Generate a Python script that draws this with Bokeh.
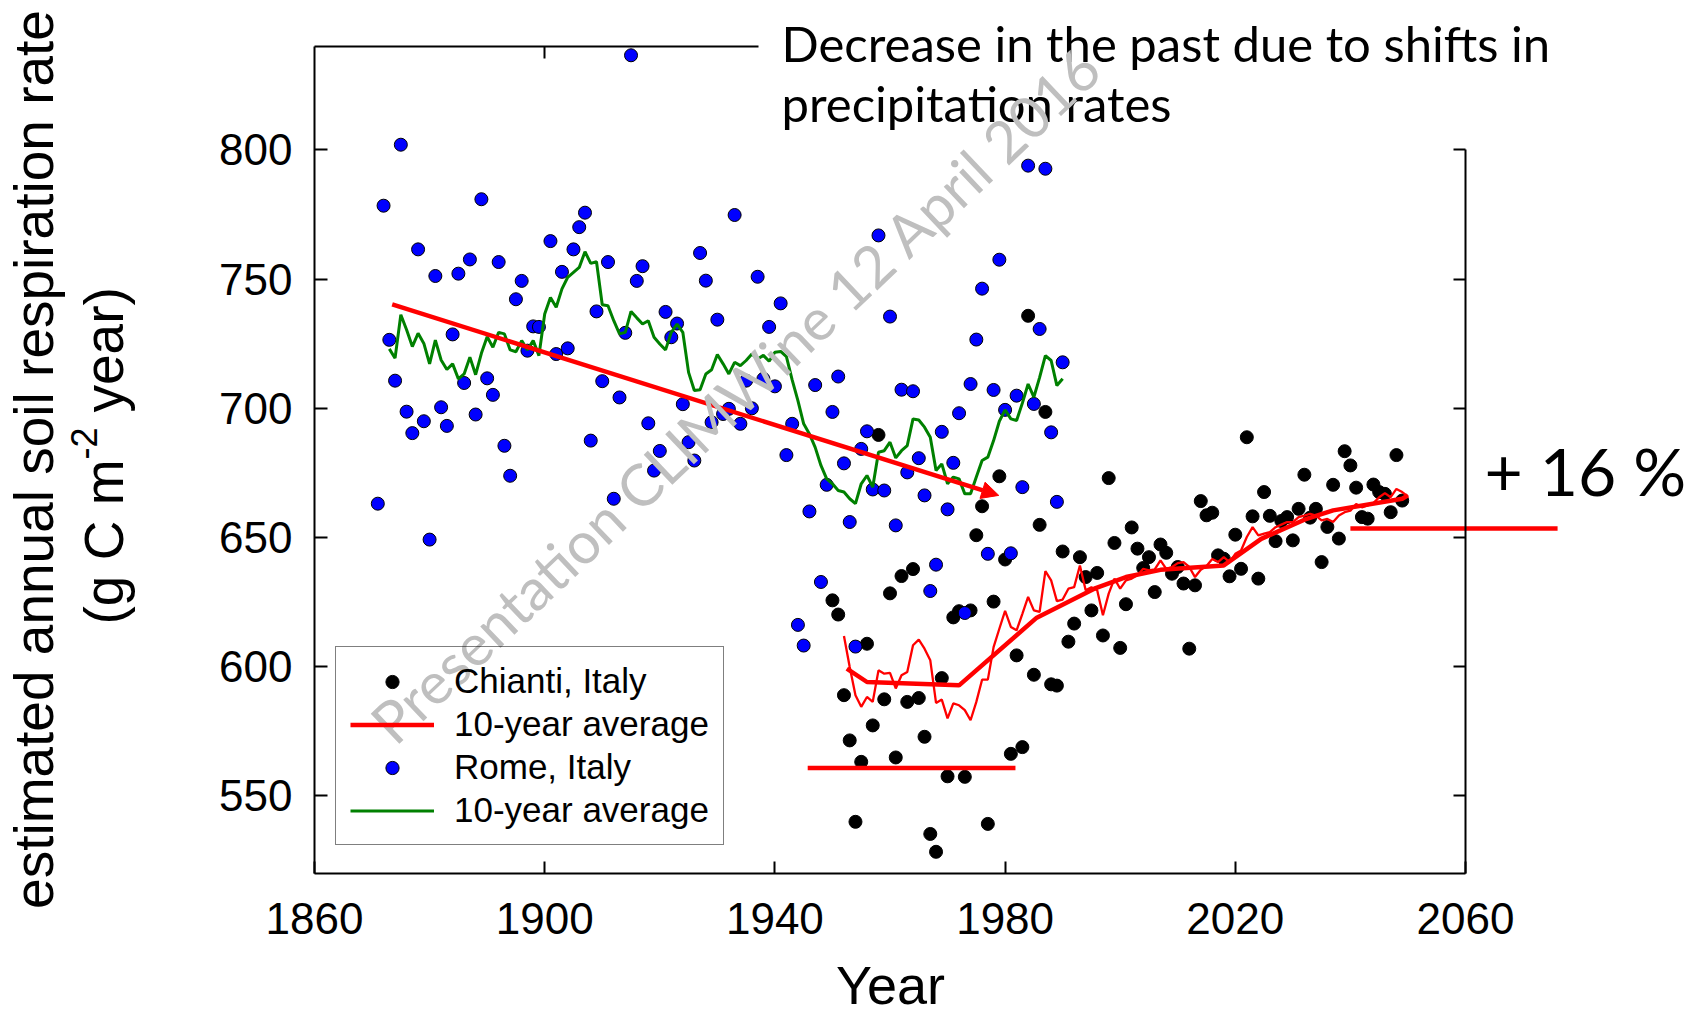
import math
from bokeh.plotting import figure
from bokeh.models import (LinearAxis, Label, Arrow, NormalHead, Legend, LegendItem,
                          FixedTicker, Range1d)
from bokeh.embed import file_html
from bokeh.resources import INLINE

# ---------------- data ----------------
x_ticks = [1860, 1900, 1940, 1980, 2020, 2060]
y_ticks = [550, 600, 650, 700, 750, 800]

rome_years = list(range(1871, 1900)) + list(range(1901, 1991))
rome_values = [
    663.1, 778.4, 726.5, 710.7, 802.0, 698.7, 690.4, 761.5, 695.0, 649.2,
    751.2, 700.4, 693.2, 728.6, 752.1, 709.8, 757.6, 697.6, 780.9, 711.6,
    705.2, 756.6, 685.5, 673.9, 742.2, 749.3, 722.3, 731.7, 731.5,
    764.7, 721.0, 752.8, 723.2, 761.5, 770.1, 775.7, 687.5, 737.5, 710.5,
    756.6, 665.0, 704.2, 729.2, 836.6, 749.3, 755.0, 694.2, 675.9, 683.5,
    737.3, 727.5, 732.8, 701.6, 686.9, 679.8, 760.1, 749.4, 694.6, 734.3,
    697.8, 699.8, 774.8, 694.0, 710.7, 700.0, 750.9, 711.4, 731.5, 708.5,
    740.6, 681.9, 694.0, 616.2, 608.2, 660.1, 709.0, 632.8, 670.4, 698.6,
    712.3, 678.7, 656.0, 607.8, 684.3, 691.1, 668.6, 766.9, 668.2, 735.5,
    654.7, 707.2, 675.2, 706.6, 680.7, 666.3, 629.3, 639.5, 690.9, 660.9,
    678.9, 698.1, 620.8, 709.4, 726.6, 746.3, 643.7, 707.1, 757.5, 699.4,
    643.9, 704.9, 669.5, 793.9, 701.7, 730.7, 792.7, 690.7, 663.8, 717.8,
]

rome_avg_years = list(range(1873, 1991))
rome_avg_values = [
    723.0, 719.4, 736.2, 730.4, 723.9, 729.0, 725.1, 717.2, 726.4, 718.7,
    715.0, 717.2, 711.4, 713.3, 719.8, 713.0, 721.3, 727.7, 723.6, 729.4,
    728.8, 722.6, 721.9, 726.2, 722.6, 726.2, 720.4, 736.5, 742.9, 739.1,
    746.2, 750.7, 752.6, 754.5, 760.6, 756.1, 756.7, 740.1, 739.7, 733.9,
    728.8, 729.4, 737.5, 735.0, 732.6, 733.9, 727.5, 724.9, 722.6, 729.4,
    732.6, 729.4, 713.9, 706.9, 707.2, 713.3, 714.9, 720.8, 717.2, 713.3,
    717.8, 716.5, 718.5, 721.0, 719.1, 720.5, 718.2, 721.7, 722.0, 720.0,
    711.0, 703.0, 694.0, 690.1, 684.9, 677.9, 672.7, 670.8, 668.2, 667.6,
    665.0, 663.1, 670.8, 674.0, 669.5, 683.0, 683.6, 686.9, 680.8, 683.6,
    685.6, 695.9, 695.5, 692.7, 688.8, 675.9, 678.5, 670.8, 673.4, 672.7,
    666.9, 666.9, 673.4, 679.8, 681.1, 687.5, 695.0, 699.4, 695.9, 695.3,
    702.0, 709.4, 704.3, 712.0, 720.4, 718.5, 708.8, 711.4,
]

chianti_years = list(range(1950, 2050))
chianti_values = [
    625.7, 620.2, 589.0, 571.5, 540.0, 563.2, 608.9, 577.3, 689.7, 587.4,
    628.4, 564.9, 635.1, 586.4, 637.8, 587.9, 572.9, 535.3, 528.4, 595.6,
    557.6, 619.1, 621.5, 557.4, 621.8, 650.9, 662.1, 539.2, 625.2, 673.7,
    641.5, 566.3, 604.4, 568.9, 735.8, 596.9, 654.9, 698.6, 593.2, 592.7,
    644.6, 609.7, 616.7, 642.4, 634.7, 621.8, 636.3, 612.1, 673.0, 647.9,
    607.3, 624.2, 653.9, 645.7, 638.2, 642.4, 628.9, 647.3, 644.1, 636.0,
    638.6, 632.2, 607.0, 631.5, 664.1, 658.6, 659.6, 643.1, 641.8, 635.0,
    651.1, 637.9, 688.8, 658.2, 634.1, 667.6, 658.4, 648.6, 656.4, 657.9,
    648.9, 661.1, 674.3, 657.7, 661.1, 640.5, 654.1, 670.4, 649.6, 683.4,
    677.9, 669.3, 657.9, 657.3, 670.5, 667.6, 666.9, 659.8, 681.9, 664.3,
]

chianti_avg_years = list(range(1952, 2051))
chianti_avg_values = [
    611.9, 599.9, 589.0, 584.5, 588.3, 586.4, 598.6, 597.3, 597.6, 591.6,
    596.7, 598.0, 608.3, 610.5, 607.0, 602.5, 586.0, 587.3, 580.0, 585.8,
    585.1, 583.2, 579.3, 586.4, 595.0, 595.0, 607.6, 614.7, 621.6, 615.4,
    614.1, 620.5, 627.0, 621.8, 621.2, 637.0, 633.4, 625.4, 626.0, 630.2,
    630.8, 639.2, 629.6, 630.8, 629.6, 619.9, 628.3, 634.1, 630.2, 633.4,
    634.1, 635.4, 637.9, 637.3, 637.7, 641.2, 637.9, 638.6, 640.1, 640.5,
    638.6, 634.7, 637.5, 639.0, 641.7, 640.5, 642.4, 640.5, 643.7, 645.0,
    650.2, 654.0, 650.8, 651.5, 652.1, 654.0, 655.0, 656.0, 656.0, 657.9,
    658.5, 659.2, 658.5, 656.6, 657.2, 656.0, 658.5, 659.8, 660.4, 663.0,
    661.7, 662.4, 663.3, 665.6, 667.2, 665.6, 668.8, 667.6, 665.9,
]

chianti_trend_years = [1952.5, 1956, 1972, 1985.5, 1995.5, 2001, 2007, 2018, 2024.5, 2032, 2037, 2049, 2050]
chianti_trend_values = [599.3, 594.1, 592.8, 619.0, 630.2, 634.7, 637.5, 639.2, 649.5, 656.9, 660.5, 665.0, 666.3]

decline_years = [1873.5, 1978.9]
decline_values = [740.2, 666.3]

past_level_years = [1945.7, 1981.8]
past_level_values = [560.8, 560.8]
future_level_years = [2040.0, 2076.0]
future_level_values = [653.5, 653.5]

# ---------------- layout helpers ----------------
W, H = 1698, 1017
FL, FR, FT, FB = 314, 1465, 46, 873          # pixel box of the axes
XMIN, XMAX, YMIN, YMAX = 1860, 2060, 520, 840


def dx(px):
    return XMIN + (px - FL) * (XMAX - XMIN) / (FR - FL)


def dy(py):
    return YMAX - (py - FT) * (YMAX - YMIN) / (FB - FT)


p = figure(width=W, height=H,
           x_range=Range1d(dx(0), dx(W)), y_range=Range1d(dy(H), dy(0)),
           output_backend="svg", toolbar_location=None,
           min_border=0, min_border_left=0, min_border_right=0,
           min_border_top=0, min_border_bottom=0,
           x_axis_location=None, y_axis_location=None)
p.outline_line_color = None
p.background_fill_color = "white"
p.border_fill_color = "white"
for g in p.xgrid + p.ygrid:
    g.visible = False

AX = dict(axis_line_width=2, axis_line_color="black", major_tick_line_width=2,
          major_tick_line_color="black", major_tick_in=12, major_tick_out=0,
          minor_tick_line_color=None, major_label_text_font="Liberation Sans",
          major_label_text_font_size="44px", major_label_text_color="black")

left = LinearAxis(ticker=FixedTicker(ticks=y_ticks), fixed_location=XMIN,
                  bounds=(YMIN, YMAX), major_label_standoff=22, **AX)
left.major_tick_in = 13
p.add_layout(left, "left")

bottom = LinearAxis(ticker=FixedTicker(ticks=x_ticks), fixed_location=YMIN,
                    bounds=(XMIN, XMAX), major_label_standoff=29, **AX)
p.add_layout(bottom, "below")

right = LinearAxis(ticker=FixedTicker(ticks=y_ticks), fixed_location=XMAX,
                   bounds=(YMIN, 800),
                   major_label_overrides={t: "" for t in y_ticks}, **AX)
p.add_layout(right, "right")

top = LinearAxis(ticker=FixedTicker(ticks=[1900]), fixed_location=YMAX,
                 bounds=(XMIN, dx(758)),
                 major_label_overrides={1900: ""}, **AX)
p.add_layout(top, "above")

# ---------------- marks ----------------
r_chianti = p.scatter(chianti_years, chianti_values, size=13, fill_color="black",
                      line_color="black", line_width=1)
r_rome = p.scatter(rome_years, rome_values, size=13, fill_color="#0000FF",
                   line_color="black", line_width=1)
r_green = p.line(rome_avg_years, rome_avg_values, line_color="#008000", line_width=3)
p.line(chianti_avg_years, chianti_avg_values, line_color="#FF0000", line_width=2.3)
r_red = p.line(chianti_trend_years, chianti_trend_values, line_color="#FF0000", line_width=4.5)
p.line(past_level_years, past_level_values, line_color="#FF0000", line_width=4.5)
p.line(future_level_years, future_level_values, line_color="#FF0000", line_width=4.5)

p.add_layout(Arrow(end=NormalHead(size=17, fill_color="#FF0000", line_color="#FF0000", line_width=1),
                   x_start=decline_years[0], y_start=decline_values[0],
                   x_end=decline_years[1], y_end=decline_values[1],
                   line_color="#FF0000", line_width=4.5))

legend = Legend(items=[
    LegendItem(label="Chianti, Italy", renderers=[r_chianti]),
    LegendItem(label="10-year average", renderers=[r_red]),
    LegendItem(label="Rome, Italy", renderers=[r_rome]),
    LegendItem(label="10-year average", renderers=[r_green]),
], location=(335, H - 845), margin=0, padding=14, spacing=3,
    glyph_width=84, glyph_height=33, label_height=40, label_standoff=20,
    label_text_font="Liberation Sans", label_text_font_size="35px",
    label_text_color="black",
    border_line_color="black", border_line_width=1.3,
    background_fill_color="white", background_fill_alpha=0.0)
p.add_layout(legend)

# ---------------- texts ----------------
# Labels are anchored at the middle of their em box: middle = baseline - k * size
K_LIB = 0.3465   # Liberation Sans (ascent .905, descent .212)
K_LATO = 0.387   # Lato (ascent .987, descent .213)
FONT = "Liberation Sans"
NOTE = "Lato"


def label(x_px, y_px, text, font, size, k, angle=0.0, align="left", color="black", level="annotation"):
    # (x_px, y_px) is the baseline anchor; shift to em-box middle perpendicular to the text
    off = k * size
    ax = x_px - off * math.sin(angle)
    ay = y_px - off * math.cos(angle)
    return Label(x=dx(ax), y=dy(ay), text=text, angle=angle, text_align=align,
                 text_baseline="middle", text_font=font, text_font_size=f"{size}px",
                 text_color=color, level=level)


# y axis title (two lines, second with superscript)
p.add_layout(label(53, 459, "estimated annual soil respiration rate", FONT, 55, K_LIB,
                   angle=math.pi / 2, align="center"))
y2_start = 624
p.add_layout(label(123, y2_start, "(g C m", FONT, 55, K_LIB, angle=math.pi / 2))
p.add_layout(label(96, y2_start - 165, "-2", FONT, 36, K_LIB, angle=math.pi / 2))
p.add_layout(label(123, y2_start - 165 - 32 - 15, "year)", FONT, 55, K_LIB, angle=math.pi / 2))

# x axis title
p.add_layout(label(890, 1003, "Year", FONT, 54, K_LIB, align="center"))

# annotations
p.add_layout(label(781, 61.5, "Decrease in the past due to shifts in", NOTE, 49, K_LATO))
p.add_layout(label(781, 121, "precipitation rates", NOTE, 49, K_LATO))
p.add_layout(label(1484, 496, "+ 16 %", NOTE, 66, K_LATO))

# watermark (on top of everything)
p.add_layout(label(395, 747, "Presentation CLIMWine 12 April 2016", NOTE, 58, K_LATO,
                   angle=math.radians(43.5), color="#BFBFBF", level="overlay"))

open("out.html", "w").write(file_html(p, INLINE))
